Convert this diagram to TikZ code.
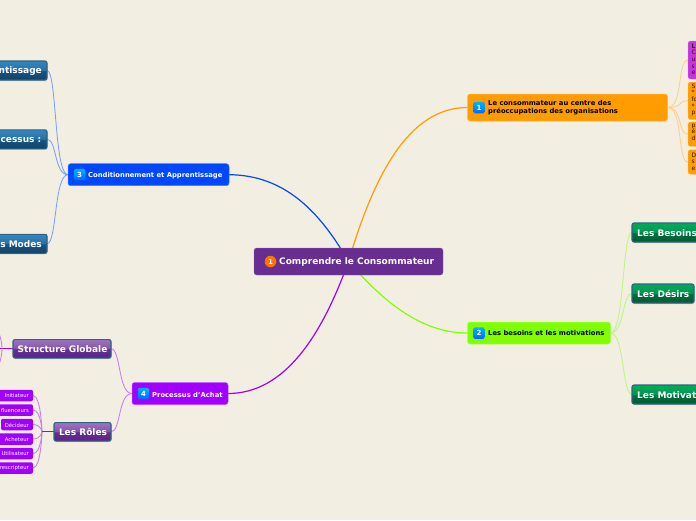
\documentclass[tikz,border=0pt]{standalone}
\usepackage{fontspec}
\setmainfont{DejaVu Sans}
\usetikzlibrary{shadows}
\pgfdeclarelayer{bg}
\pgfsetlayers{bg,main}
\definecolor{paper}{HTML}{F2EFE2}
\definecolor{rootc}{HTML}{672D91}
\definecolor{orangec}{HTML}{FF9C00}
\definecolor{limec}{HTML}{80FF00}
\definecolor{bluec}{HTML}{0048FF}
\definecolor{violc}{HTML}{A000FF}
\definecolor{magc}{HTML}{C832E0}
\definecolor{orangel}{HTML}{FFCF88}
\definecolor{limel}{HTML}{BDF580}
\definecolor{bluel}{HTML}{7C9EF5}
\definecolor{violl}{HTML}{C97AFA}
\definecolor{subedge}{HTML}{2F6480}
\definecolor{ga}{HTML}{00502C}\definecolor{gb}{HTML}{005A32}\definecolor{gc}{HTML}{00703E}\definecolor{gd}{HTML}{009650}\definecolor{ge}{HTML}{00AC5C}
\definecolor{ba}{HTML}{0F3E64}\definecolor{bb}{HTML}{114268}\definecolor{bc}{HTML}{185482}\definecolor{bd}{HTML}{2672AA}\definecolor{be}{HTML}{3486C0}
\definecolor{pa}{HTML}{552480}\definecolor{pb}{HTML}{582684}\definecolor{pc}{HTML}{642E94}\definecolor{pd}{HTML}{8454AC}\definecolor{pe}{HTML}{A074C0}
\pgfdeclareverticalshading{gbar}{100bp}{color(0bp)=(ga);color(25bp)=(gb);color(49bp)=(gc);color(51bp)=(gd);color(75bp)=(ge);color(100bp)=(ge)}
\pgfdeclareverticalshading{bbar}{100bp}{color(0bp)=(ba);color(25bp)=(bb);color(49bp)=(bc);color(51bp)=(bd);color(75bp)=(be);color(100bp)=(be)}
\pgfdeclareverticalshading{pbar}{100bp}{color(0bp)=(pa);color(25bp)=(pb);color(49bp)=(pc);color(51bp)=(pd);color(75bp)=(pe);color(100bp)=(pe)}
\tikzset{
  x=1pt,y=-1pt,
  box/.style={rectangle,rounded corners=2.6pt,inner sep=0pt,outer sep=0pt},
  rootbox/.style={box,fill=rootc,draw=rootc!70!white,line width=.4pt},
  branch/.style={box,line width=.5pt},
  sub/.style={box,draw=subedge,line width=1.1pt,rounded corners=2pt,drop shadow={shadow xshift=.6pt,shadow yshift=-1pt,opacity=.35}},
  greensub/.style={sub,shading=gbar},
  bluesub/.style={sub,shading=bbar},
  purplesub/.style={sub,shading=pbar},
  leaf/.style={box,fill=violc,rounded corners=2pt},
  note/.style={box,rounded corners=2.5pt},
  subtext/.style={font=\bfseries\fontsize{9}{10}\selectfont,text=white,inner sep=0pt},
  leaftext/.style={font=\fontsize{5.3}{6}\selectfont,text=white,inner sep=0pt,anchor=east},
  notetext/.style={font=\fontsize{6}{6.7}\selectfont,text=black!85!orange,inner sep=0pt,anchor=north west,align=left},
  btext/.style={font=\bfseries\fontsize{6.8}{8}\selectfont,inner sep=0pt,anchor=west,align=left},
  icon/.style={rectangle,rounded corners=1.5pt,minimum size=11.5pt,inner sep=0pt,top color=cyan!70!blue,bottom color=blue!60!cyan,text=white,font=\bfseries\fontsize{7}{8}\selectfont},
  mainlink/.style={line width=1.2pt},
  sublink/.style={line width=.85pt},
}
\begin{document}
\begin{tikzpicture}
\useasboundingbox (0,0) rectangle (696,520);
\clip (0,0) rectangle (696,520);
\begin{pgfonlayer}{bg}
  \fill[paper] (0,0) rectangle (696,520);
\end{pgfonlayer}

% root
\node[rootbox,minimum width=189pt,minimum height=27pt] (root) at (348.5,261.5) {};
\node[circle,fill=orange!90!red,minimum size=11.5pt,inner sep=0pt,text=white,font=\bfseries\fontsize{7}{8}\selectfont] (rooticon) at (270.5,261.5) {1};
\node[inner sep=0pt,anchor=west,text=white,font=\bfseries\fontsize{9}{10}\selectfont] (roottext) at (279,261.7) {Comprendre le Consommateur};

% branches
\node[branch,fill=orangec,draw=orangec!70!white,minimum width=200pt,minimum height=27pt] (b1) at (567.5,107.5) {};
\node[icon] (i1) at (479,107.5) {1};
\node[btext,text=black] (t1) at (488,107.5) {Le consommateur au centre des\\préoccupations des organisations};

\node[branch,fill=limec,draw=limec!70!white,minimum width=143pt,minimum height=22pt] (b2) at (539,333) {};
\node[icon] (i2) at (479,333) {2};
\node[btext,text=black] (t2) at (488,333) {Les besoins et les motivations};

\node[branch,fill=bluec,draw=bluec!70!white,minimum width=161pt,minimum height=22pt] (b3) at (148.5,174.7) {};
\node[icon] (i3) at (79.5,174.7) {3};
\node[btext,text=white] (t3) at (88,175.5) {Conditionnement et Apprentissage};

\node[branch,fill=violc,draw=violc!70!white,minimum width=96pt,minimum height=22pt] (b4) at (180,393.5) {};
\node[icon] (i4) at (143.5,393.5) {4};
\node[btext,text=white] (t4) at (152,394.5) {Processus d'Achat};

% green subtopics
\node[greensub,minimum width=80pt,minimum height=19pt] (g1) at (672,232.5) {};
\node[subtext,anchor=west] (g1t) at (637,233) {Les Besoins};
\node[greensub,minimum width=62pt,minimum height=19pt] (g2) at (663,293.5) {};
\node[subtext,anchor=west] (g2t) at (637,294) {Les Désirs};
\node[greensub,minimum width=80pt,minimum height=19pt] (g3) at (672,394.5) {};
\node[subtext,anchor=west] (g3t) at (637,395) {Les Motivati};

% blue subtopics
\node[bluesub,minimum width=70pt,minimum height=19pt] (l1) at (12,70.5) {};
\node[subtext,anchor=east] (l1t) at (42,71) {ntissage};
\node[bluesub,minimum width=70pt,minimum height=19pt] (l2) at (12,139.3) {};
\node[subtext,anchor=east] (l2t) at (41.5,140) {ocessus :};
\node[bluesub,minimum width=70pt,minimum height=19pt] (l3) at (12,243.8) {};
\node[subtext,anchor=east] (l3t) at (42,244.5) {es Modes};

% purple subtopics
\node[purplesub,minimum width=98pt,minimum height=18.5pt] (p1) at (62,348.8) {};
\node[subtext] (p1t) at (62.5,349) {Structure Globale};
\node[purplesub,minimum width=57pt,minimum height=18.5pt] (p2) at (82.5,431.8) {};
\node[subtext] (p2t) at (83,432) {Les Rôles};

% role leaves
\node[leaf,minimum width=40pt,minimum height=11.5pt] (a1) at (13,395.5) {};
\node[leaftext] (a1t) at (29,396) {Initiateur};
\node[leaf,minimum width=40pt,minimum height=11.5pt] (a2) at (13,410) {};
\node[leaftext] (a2t) at (29,410.5) {fluenceurs};
\node[leaf,minimum width=32pt,minimum height=11.5pt] (a3) at (17,424.5) {};
\node[leaftext] (a3t) at (29,425) {Décideur};
\node[leaf,minimum width=40pt,minimum height=11.5pt] (a4) at (13,439) {};
\node[leaftext] (a4t) at (29,439.5) {Acheteur};
\node[leaf,minimum width=40pt,minimum height=11.5pt] (a5) at (13,453.5) {};
\node[leaftext] (a5t) at (29,454) {Utilisateur};
\node[leaf,minimum width=40pt,minimum height=11.5pt] (a6) at (13,468) {};
\node[leaftext] (a6t) at (29,468.5) {rescripteur};

% clipped notes, right edge
\node[note,fill=magc,draw=magc!70!white,line width=.4pt,minimum width=30pt,minimum height=38pt] (n1) at (703,60) {};
\node[notetext] (n1t) at (691.3,43.5) {\textbf{L}\\C\\u\\s\\e};
\node[note,fill=orangec,draw=orangec!70!white,line width=.4pt,minimum width=30pt,minimum height=37.5pt] (n2) at (703,100.8) {};
\node[notetext] (n2t) at (691.3,83.5) {S\\*\\fo\\*\\p};
\node[note,fill=orangec,draw=orangec!70!white,line width=.4pt,minimum width=30pt,minimum height=24.5pt] (n3) at (703,134.2) {};
\node[notetext] (n3t) at (691.3,123.5) {p\\é\\d};
\node[note,fill=orangec,draw=orangec!70!white,line width=.4pt,minimum width=30pt,minimum height=24.5pt] (n4) at (703,162) {};
\node[notetext] (n4t) at (691.3,152.5) {D\\s\\e};

% free ends of the links leaving the left edge
\coordinate (pu) at (-3,327);
\coordinate (pd) at (-3,371);

\begin{pgfonlayer}{bg}
  \draw[mainlink,color=orangec] (root.center) .. controls (375,172) and (410,107.5) .. (b1.west);
  \draw[mainlink,color=limec] (root.center) .. controls (382,300) and (420,333) .. (b2.west);
  \draw[mainlink,color=bluec] (root.center) .. controls (320,212) and (285,175) .. (b3.east);
  \draw[mainlink,color=violc] (root.center) .. controls (322,335) and (285,393.5) .. (b4.east);

  \foreach \n in {n1,n2,n3,n4}
    \draw[sublink,color=orangel] (b1.east) .. controls +(16,0) and +(-11,0) .. (\n.west);
  \foreach \n in {g1,g2,g3}
    \draw[sublink,color=limel] (b2.east) .. controls +(14,0) and +(-10,0) .. (\n.west);
  \foreach \n in {l1,l2,l3}
    \draw[sublink,color=bluel] (b3.west) .. controls +(-14,0) and +(10,0) .. (\n.east);
  \foreach \n in {p1,p2}
    \draw[sublink,color=violl] (b4.west) .. controls +(-14,0) and +(10,0) .. (\n.east);
  \foreach \n in {a1,a2,a3,a4,a5,a6}
    \draw[sublink,color=violl] ([xshift=-12pt]p2.west) .. controls +(0,0) and +(8,0) .. (\n.east);
  \draw[line width=1pt,color=violc] (p2.west) -- ++(-12,0);
  \draw[line width=1pt,color=violc] (p1.west) -- ++(-16,0);
  \draw[sublink,color=violl] ([xshift=-11pt]p1.west) .. controls +(0,-8) and +(2,6) .. (pu);
  \draw[sublink,color=violl] ([xshift=-11pt]p1.west) .. controls +(0,8) and +(2,-6) .. (pd);
\end{pgfonlayer}
\end{tikzpicture}
\end{document}
